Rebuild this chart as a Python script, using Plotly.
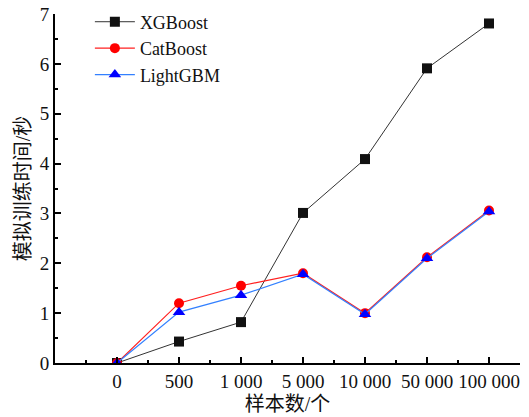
import plotly.graph_objects as go

categories = ["0", "500", "1 000", "5 000", "10 000", "50 000", "100 000"]
xgboost = [0.0, 0.43, 0.82, 3.01, 4.09, 5.91, 6.81]
catboost = [0.0, 1.20, 1.55, 1.80, 1.00, 2.12, 3.06]
lightgbm = [0.0, 1.02, 1.36, 1.78, 0.98, 2.10, 3.04]

pos = list(range(len(categories)))
font_stack = "Liberation Serif, Noto Sans CJK SC, serif"

fig = go.Figure()
fig.add_trace(go.Scatter(
    x=pos, y=xgboost, name="XGBoost", mode="lines+markers",
    line=dict(color="#333333", width=1),
    marker=dict(symbol="square", size=10, color="#111111"),
))
fig.add_trace(go.Scatter(
    x=pos, y=catboost, name="CatBoost", mode="lines+markers",
    line=dict(color="#ff2020", width=1.2),
    marker=dict(symbol="circle", size=10, color="#ff0000"),
))
fig.add_trace(go.Scatter(
    x=pos, y=lightgbm, name="LightGBM", mode="lines+markers",
    line=dict(color="#3380ff", width=1.2),
    marker=dict(symbol="triangle-up", size=11, color="#0000ff"),
))

fig.update_layout(
    width=529, height=417,
    margin=dict(l=55, r=9, t=14, b=54, autoexpand=False),
    plot_bgcolor="white", paper_bgcolor="white",
    font=dict(family=font_stack, size=19, color="#111111"),
    showlegend=True,
    legend=dict(
        x=0.075, y=1.03, xanchor="left", yanchor="top",
        bgcolor="rgba(0,0,0,0)", font=dict(size=18),
        tracegroupgap=0, itemwidth=40,
    ),
    xaxis=dict(
        range=[-1, 6.5],
        tickmode="array", tickvals=pos, ticktext=categories,
        tickangle=0, automargin=False,
        ticks="inside", ticklen=6, tickwidth=2, tickcolor="black",
        minor=dict(tickmode="array", tickvals=[p - 0.5 for p in pos] + [6.5],
                   ticks="inside", ticklen=3, tickwidth=2, tickcolor="black"),
        showline=True, linecolor="black", linewidth=2,
        showgrid=False, zeroline=False,
        title=dict(text="样本数/个", font=dict(size=20), standoff=6),
    ),
    yaxis=dict(
        range=[0, 7],
        tickmode="array", tickvals=list(range(8)),
        automargin=False,
        ticks="inside", ticklen=6, tickwidth=2, tickcolor="black",
        minor=dict(tickmode="array", tickvals=[i + 0.5 for i in range(7)],
                   ticks="inside", ticklen=3, tickwidth=2, tickcolor="black"),
        showline=True, linecolor="black", linewidth=2,
        showgrid=False, zeroline=False,
        title=dict(text="模拟训练时间/秒", font=dict(size=20), standoff=4),
    ),
)

fig.write_html("out.html")
